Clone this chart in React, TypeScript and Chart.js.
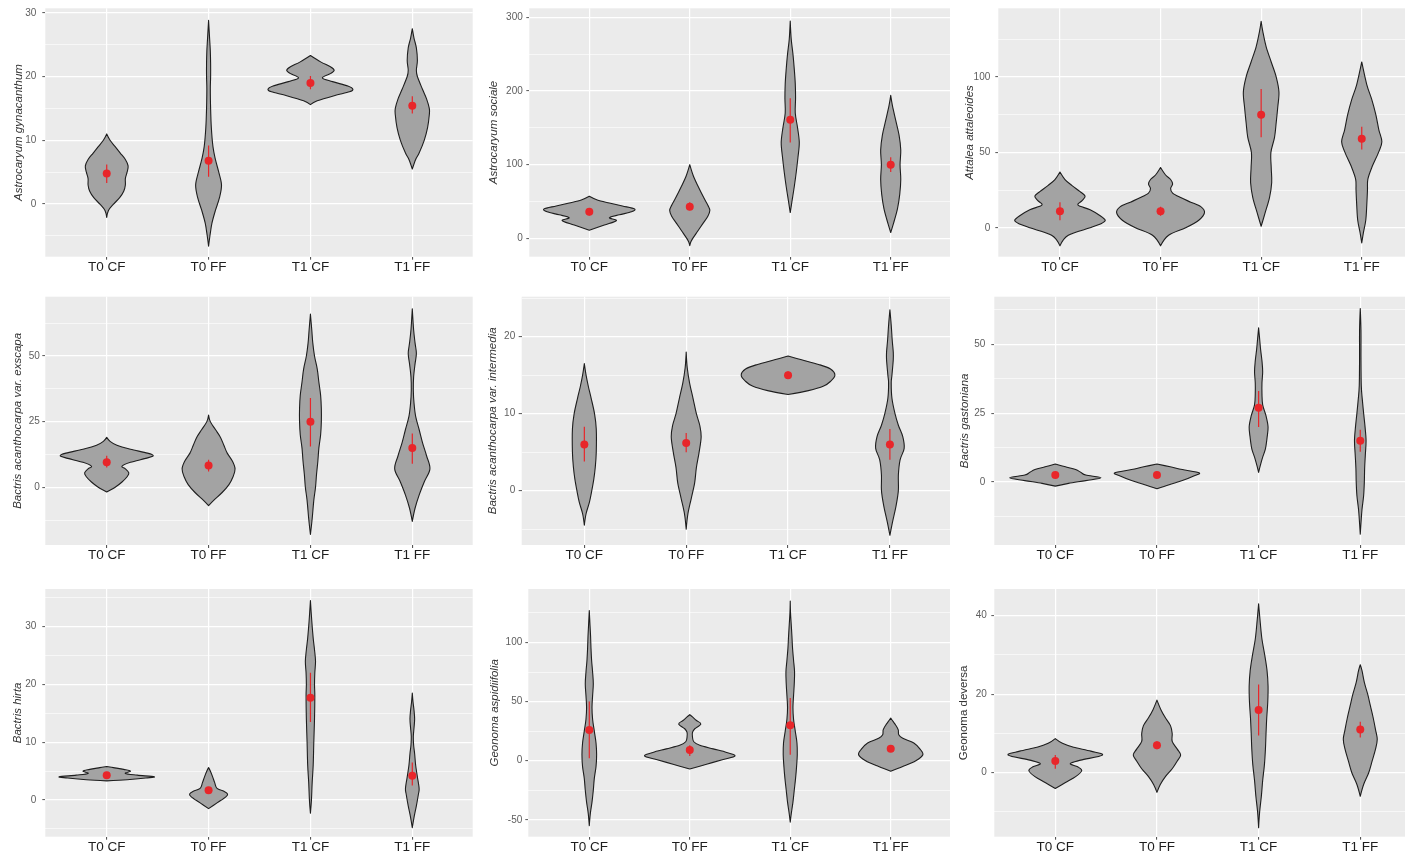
import React, { useEffect, useRef } from 'react';
import { Chart, registerables } from 'chart.js';

Chart.register(...registerables);

const categories = ['T0 CF', 'T0 FF', 'T1 CF', 'T1 FF'];

// ---------- Astrocaryum gynacanthum ----------
const gynY = [
  [-2.1, -1, 0, 1, 2, 3, 4, 5, 6, 7, 8, 9, 10, 11],
  [-6.6, -5, -3, -1, 1, 3, 5, 7, 9, 12, 15, 18, 20, 22, 24, 26, 28.8],
  [15.6, 16.2, 17, 17.6, 18, 18.5, 19.2, 19.8, 20.5, 21, 21.5, 22.3, 23.3],
  [5.5, 7, 8, 10, 12, 14, 15, 16.5, 18, 20, 21, 22.5, 24.5, 26, 27.5],
];
const gynW = [
  [0, 0.017, 0.067, 0.127, 0.167, 0.183, 0.183, 0.2, 0.21, 0.183, 0.133, 0.083, 0.033, 0],
  [0, 0.013, 0.033, 0.067, 0.107, 0.127, 0.1, 0.067, 0.043, 0.027, 0.02, 0.017, 0.02, 0.02, 0.017, 0.01, 0],
  [0, 0.067, 0.233, 0.383, 0.417, 0.367, 0.217, 0.117, 0.2, 0.233, 0.2, 0.1, 0],
  [0, 0.033, 0.067, 0.117, 0.15, 0.167, 0.167, 0.14, 0.1, 0.05, 0.04, 0.05, 0.04, 0.017, 0],
];
const gynMean = [4.8, 6.8, 19.0, 15.4];
const gynLow = [3.3, 4.3, 18.0, 14.2];
const gynHigh = [6.2, 9.2, 20.1, 16.9];
const gynMajor = [0, 10, 20, 30];
const gynMinor = [-5, 5, 15, 25];

// ---------- Astrocaryum sociale ----------
const socY = [
  [11, 18, 24, 28, 32, 36, 40, 44, 48, 52, 57],
  [-10, -5, 0, 10, 20, 30, 38, 45, 55, 70, 85, 100],
  [35, 50, 70, 90, 110, 130, 150, 170, 190, 210, 230, 250, 270, 295],
  [8, 20, 40, 60, 80, 100, 120, 140, 160, 180, 194],
];
const socW = [
  [0, 0.15, 0.27, 0.2, 0.3, 0.42, 0.45, 0.33, 0.2, 0.08, 0],
  [0, 0.01, 0.03, 0.08, 0.13, 0.18, 0.2, 0.18, 0.14, 0.085, 0.035, 0],
  [0, 0.017, 0.04, 0.06, 0.077, 0.09, 0.073, 0.05, 0.053, 0.05, 0.04, 0.027, 0.01, 0],
  [0, 0.027, 0.067, 0.09, 0.1, 0.093, 0.1, 0.083, 0.05, 0.017, 0],
];
const socMean = [36, 43, 161, 100];
const socLow = [31, 38, 130, 90];
const socHigh = [40, 49, 190, 110];
const socMajor = [0, 100, 200, 300];
const socMinor = [50, 150, 250];

// ---------- Attalea attaleoides ----------
const attY = [
  [-12, -5, 0, 3, 5, 8, 12, 15, 18, 21, 24, 28, 32, 37],
  [-12, -5, 0, 5, 10, 14, 17, 20, 23, 26, 29, 32, 35, 40],
  [1, 10, 20, 30, 40, 50, 60, 70, 80, 90, 100, 110, 120, 130, 137],
  [-10, -3, 5, 15, 25, 32, 40, 50, 57, 65, 75, 85, 95, 110],
];
const attW = [
  [0, 0.083, 0.3, 0.417, 0.45, 0.4, 0.3, 0.18, 0.22, 0.25, 0.2, 0.12, 0.05, 0],
  [0, 0.08, 0.25, 0.38, 0.437, 0.4, 0.3, 0.2, 0.12, 0.1, 0.12, 0.1, 0.05, 0],
  [0, 0.04, 0.083, 0.105, 0.1, 0.097, 0.133, 0.15, 0.165, 0.177, 0.15, 0.1, 0.05, 0.017, 0],
  [0, 0.017, 0.04, 0.05, 0.057, 0.06, 0.1, 0.167, 0.2, 0.17, 0.14, 0.1, 0.05, 0],
];
const attMean = [11, 11, 75, 59];
const attLow = [5, 8, 60, 52];
const attHigh = [17, 14, 92, 67];
const attMajor = [0, 50, 100];
const attMinor = [25, 75, 125];

// ---------- Bactris acanthocarpa var. exscapa ----------
const exsY = [
  [-1.8, 0, 2, 4, 5.5, 7, 8, 9.5, 11, 12, 13, 14.5, 16, 17.5, 19],
  [-7, -5, -2, 1, 4, 7, 10, 13, 16, 19, 22, 25, 27.5],
  [-18, -12, -5, 0, 5, 10, 15, 20, 25, 30, 35, 40, 45, 50, 55, 60, 66],
  [-13, -8, -3, 2, 7, 12, 17, 22, 27, 32, 37, 42, 47, 51, 55, 60, 68],
];
const exsW = [
  [0, 0.083, 0.15, 0.2, 0.217, 0.183, 0.15, 0.233, 0.383, 0.457, 0.4, 0.233, 0.1, 0.033, 0],
  [0, 0.05, 0.133, 0.2, 0.24, 0.26, 0.233, 0.183, 0.15, 0.117, 0.067, 0.017, 0],
  [0, 0.017, 0.033, 0.05, 0.06, 0.073, 0.083, 0.1, 0.107, 0.107, 0.1, 0.083, 0.067, 0.04, 0.023, 0.013, 0],
  [0, 0.027, 0.067, 0.117, 0.173, 0.14, 0.1, 0.067, 0.033, 0.017, 0.01, 0.013, 0.027, 0.04, 0.027, 0.013, 0],
];
const exsMean = [9.5, 8.3, 25, 15];
const exsLow = [7.5, 6, 15.5, 9];
const exsHigh = [12, 10.5, 34, 20.5];
const exsMajor = [0, 25, 50];
const exsMinor = [-12.5, 12.5, 37.5, 62.5];

// ---------- Bactris acanthocarpa var. intermedia ----------
const intY = [
  [-4.5, -3, -1.5, 0, 1.5, 3, 5, 8, 10, 12, 13.5, 15, 16.5],
  [-5, -3, -1, 1, 3, 5, 7, 8.5, 10, 12, 14, 16, 18],
  [12.5, 13, 13.6, 14.2, 15, 15.8, 16.4, 17, 17.5],
  [-5.8, -4, -2, 0, 2, 4, 5.5, 7, 8.5, 10, 12, 14, 15, 17, 18, 19.5, 21.5, 23.5],
];
const intW = [
  [0, 0.017, 0.05, 0.073, 0.093, 0.107, 0.117, 0.117, 0.1, 0.067, 0.04, 0.017, 0],
  [0, 0.017, 0.05, 0.083, 0.1, 0.127, 0.147, 0.133, 0.1, 0.067, 0.033, 0.01, 0],
  [0, 0.2, 0.35, 0.417, 0.46, 0.417, 0.3, 0.133, 0],
  [0, 0.027, 0.06, 0.083, 0.083, 0.1, 0.14, 0.127, 0.083, 0.05, 0.02, 0.013, 0.02, 0.033, 0.033, 0.023, 0.013, 0],
];
const intMean = [6, 6.2, 15, 6];
const intLow = [3.8, 5, 14.6, 4];
const intHigh = [8.3, 7.5, 15.5, 8];
const intMajor = [0, 10, 20];
const intMinor = [-5, 5, 15, 25];

// ---------- Bactris gastoniana ----------
const gasY = [
  [-1.5, -0.5, 0.5, 1.5, 2.5, 3.5, 4.5, 5.5, 6.5],
  [-2.5, -1, 0.5, 2, 3.3, 4.5, 5.5, 6.5],
  [3.5, 6, 9, 12, 16, 20, 24, 28, 32, 36, 40, 44, 48, 52, 56],
  [-19, -15, -10, -5, 0, 5, 10, 15, 20, 25, 30, 35, 45, 55, 63],
];
const gasW = [
  [0, 0.13, 0.3, 0.45, 0.3, 0.25, 0.2, 0.1, 0],
  [0, 0.12, 0.25, 0.35, 0.417, 0.25, 0.13, 0],
  [0, 0.017, 0.04, 0.067, 0.083, 0.093, 0.073, 0.04, 0.033, 0.033, 0.04, 0.033, 0.02, 0.01, 0],
  [0, 0.007, 0.017, 0.033, 0.04, 0.043, 0.05, 0.057, 0.047, 0.033, 0.02, 0.01, 0.007, 0.007, 0],
];
const gasMean = [2.5, 2.5, 27, 15];
const gasLow = [2, 2, 20, 11];
const gasHigh = [3, 3, 33, 19];
const gasMajor = [0, 25, 50];
const gasMinor = [-12.5, 12.5, 37.5, 62.5];

// ---------- Bactris hirta ----------
const hirY = [
  [3.3, 3.5, 3.8, 4.0, 4.3, 4.6, 5.0, 5.3, 5.6, 5.8],
  [-1.5, -0.5, 0.5, 1, 1.5, 2, 3, 4, 5, 5.6],
  [-2.3, 0, 3, 6, 10, 14, 18, 20, 22, 24, 26, 28, 31, 34.5],
  [-4.8, -3, -1, 1, 2, 4, 6, 8, 9.5, 11, 12.5, 14, 15.5, 17, 18.5],
];
const hirW = [
  [0, 0.2, 0.383, 0.467, 0.3, 0.183, 0.233, 0.167, 0.067, 0],
  [0, 0.083, 0.167, 0.187, 0.15, 0.083, 0.06, 0.04, 0.017, 0],
  [0, 0.01, 0.017, 0.027, 0.033, 0.04, 0.043, 0.04, 0.043, 0.05, 0.04, 0.027, 0.013, 0],
  [0, 0.017, 0.04, 0.06, 0.067, 0.05, 0.033, 0.023, 0.013, 0.01, 0.017, 0.023, 0.017, 0.007, 0],
];
const hirMean = [4.3, 1.7, 17.7, 4.2];
const hirLow = [4.0, 1.4, 13.5, 2.5];
const hirHigh = [4.6, 2.0, 22, 6.5];
const hirMajor = [0, 10, 20, 30];
const hirMinor = [-5, 5, 15, 25, 35];

// ---------- Geonoma aspidiifolia ----------
const aspY = [
  [-55, -45, -35, -25, -15, -5, 5, 15, 25, 35, 45, 55, 65, 75, 85, 95, 105, 115, 127],
  [-7, -3, 1, 4, 7, 10, 13, 16, 20, 24, 27, 31, 34, 37, 39],
  [-52, -45, -35, -25, -15, -5, 5, 15, 25, 35, 45, 55, 65, 75, 85, 95, 105, 115, 125, 135],
  [-9, -5, 0, 5, 10, 15, 19, 22, 26, 30, 33, 36],
];
const aspW = [
  [0, 0.01, 0.027, 0.04, 0.05, 0.067, 0.073, 0.067, 0.05, 0.033, 0.027, 0.033, 0.04, 0.033, 0.023, 0.017, 0.013, 0.007, 0],
  [0, 0.167, 0.333, 0.45, 0.367, 0.233, 0.1, 0.04, 0.027, 0.027, 0.05, 0.11, 0.067, 0.027, 0],
  [0, 0.01, 0.027, 0.04, 0.053, 0.063, 0.07, 0.067, 0.05, 0.033, 0.027, 0.033, 0.04, 0.043, 0.033, 0.023, 0.017, 0.01, 0.003, 0],
  [0, 0.12, 0.25, 0.32, 0.29, 0.23, 0.12, 0.08, 0.075, 0.05, 0.025, 0],
];
const aspMean = [26, 9, 30, 10];
const aspLow = [2, 4, 5, 8];
const aspHigh = [50, 13, 53, 12];
const aspMajor = [-50, 0, 50, 100];
const aspMinor = [-25, 25, 75, 125];

// ---------- Geonoma deversa ----------
const devY = [
  [-4, -2.5, -1, 0.5, 1.5, 2.3, 3.2, 4.5, 5.5, 6.5, 7.5, 8.7],
  [-5, -3, -1, 1, 3, 4.5, 6, 8, 10, 12, 14, 16, 18.5],
  [-14, -10, -6, -2, 2, 6, 10, 14, 18, 22, 26, 30, 34, 38, 43],
  [-6, -3, 0, 3, 6, 8.5, 11, 14, 17, 20, 23, 26, 27.5],
];
const devW = [
  [0, 0.1, 0.2, 0.26, 0.22, 0.147, 0.25, 0.463, 0.35, 0.18, 0.07, 0],
  [0, 0.033, 0.083, 0.15, 0.2, 0.233, 0.2, 0.15, 0.15, 0.133, 0.083, 0.04, 0],
  [0, 0.01, 0.027, 0.04, 0.057, 0.067, 0.073, 0.08, 0.09, 0.093, 0.083, 0.06, 0.033, 0.017, 0],
  [0, 0.033, 0.083, 0.117, 0.15, 0.167, 0.15, 0.127, 0.1, 0.073, 0.04, 0.017, 0],
];
const devMean = [3, 7, 16, 11];
const devLow = [1, 6, 9.5, 9];
const devHigh = [4.5, 8, 22.5, 13];
const devMajor = [0, 20, 40];
const devMinor = [-10, 10, 30];

const titles = [
  'Astrocaryum gynacanthum',
  'Astrocaryum sociale',
  'Attalea attaleoides',
  'Bactris acanthocarpa var. exscapa',
  'Bactris acanthocarpa var. intermedia',
  'Bactris gastoniana',
  'Bactris hirta',
  'Geonoma aspidiifolia',
  'Geonoma deversa',
];

const panels = [
  { ys: gynY, ws: gynW, mean: gynMean, low: gynLow, high: gynHigh, major: gynMajor, minor: gynMinor, yMin: -8.25, yMax: 30.7, italic: true },
  { ys: socY, ws: socW, mean: socMean, low: socLow, high: socHigh, major: socMajor, minor: socMinor, yMin: -24.9, yMax: 312.2, italic: true },
  { ys: attY, ws: attW, mean: attMean, low: attLow, high: attHigh, major: attMajor, minor: attMinor, yMin: -19.2, yMax: 145.6, italic: true },
  { ys: exsY, ws: exsW, mean: exsMean, low: exsLow, high: exsHigh, major: exsMajor, minor: exsMinor, yMin: -22, yMax: 72.6, italic: true },
  { ys: intY, ws: intW, mean: intMean, low: intLow, high: intHigh, major: intMajor, minor: intMinor, yMin: -7.06, yMax: 25.2, italic: true },
  { ys: gasY, ws: gasW, mean: gasMean, low: gasLow, high: gasHigh, major: gasMajor, minor: gasMinor, yMin: -22.9, yMax: 67.3, italic: true },
  { ys: hirY, ws: hirW, mean: hirMean, low: hirLow, high: hirHigh, major: hirMajor, minor: hirMinor, yMin: -6.35, yMax: 36.5, italic: true },
  { ys: aspY, ws: aspW, mean: aspMean, low: aspLow, high: aspHigh, major: aspMajor, minor: aspMinor, yMin: -64.3, yMax: 145.2, italic: true },
  { ys: devY, ws: devW, mean: devMean, low: devLow, high: devHigh, major: devMajor, minor: devMinor, yMin: -16.3, yMax: 46.8, italic: false },
];

// plot-area boxes (page pixels) for the 3x3 grid
const boxes = [
  { l: 45.3, t: 8.3, r: 472.7, b: 256.7, titleX: 18.3, xMin: 0.397, xMax: 4.593, tickPad: 6 },
  { l: 529.3, t: 8.3, r: 950, b: 256.7, titleX: 493.3, xMin: 0.403, xMax: 4.59, tickPad: 3.5 },
  { l: 998.3, t: 8.3, r: 1405, b: 256.7, titleX: 970, xMin: 0.387, xMax: 4.43, tickPad: 5 },
  { l: 45.3, t: 296.7, r: 472.7, b: 545, titleX: 17.5, xMin: 0.397, xMax: 4.593, tickPad: 2.5 },
  { l: 521.7, t: 296.7, r: 950, b: 545, titleX: 492.5, xMin: 0.385, xMax: 4.59, tickPad: 3.5 },
  { l: 994.3, t: 296.7, r: 1405, b: 545, titleX: 964.3, xMin: 0.4, xMax: 4.44, tickPad: 6 },
  { l: 45.3, t: 589, r: 472.7, b: 836.7, titleX: 17.5, xMin: 0.397, xMax: 4.593, tickPad: 6 },
  { l: 528.3, t: 589, r: 950, b: 836.7, titleX: 495, xMin: 0.393, xMax: 4.59, tickPad: 3 },
  { l: 994.3, t: 589, r: 1405, b: 836.7, titleX: 964.3, xMin: 0.4, xMax: 4.44, tickPad: 4.5 },
];

const FONT = "'Liberation Sans', Arial, Helvetica, sans-serif";
const PANEL_BG = '#ebebeb';
const VIOLIN_FILL = '#a3a3a3';
const VIOLIN_LINE = '#1e1e1e';
const RED = '#e8262a';

function tracePath(ctx: CanvasRenderingContext2D, pts: number[][], corner: boolean[]) {
  const n = pts.length;
  const tan = pts.map((p, i) => {
    if (corner[i]) return [0, 0];
    const a = pts[(i - 1 + n) % n];
    const b = pts[(i + 1) % n];
    return [(b[0] - a[0]) / 2, (b[1] - a[1]) / 2];
  });
  ctx.moveTo(pts[0][0], pts[0][1]);
  for (let i = 0; i < n; i++) {
    const j = (i + 1) % n;
    ctx.bezierCurveTo(
      pts[i][0] + tan[i][0] / 3, pts[i][1] + tan[i][1] / 3,
      pts[j][0] - tan[j][0] / 3, pts[j][1] - tan[j][1] / 3,
      pts[j][0], pts[j][1]
    );
  }
  ctx.closePath();
}

function makeViolinPlugin(ys: number[][], ws: number[][]) {
  return {
    id: 'violins',
    beforeDatasetsDraw(chart: any) {
      const { ctx, chartArea: a, scales } = chart;
      const xs = scales.x;
      const yS = scales.y;
      ctx.save();
      ctx.beginPath();
      ctx.rect(a.left, a.top, a.right - a.left, a.bottom - a.top);
      ctx.clip();
      ys.forEach((yy, i) => {
        const c = i + 1;
        const w = ws[i];
        const pts: number[][] = [];
        const corner: boolean[] = [];
        for (let k = 0; k < yy.length; k++) {
          pts.push([xs.getPixelForValue(c + w[k]), yS.getPixelForValue(yy[k])]);
          corner.push(k === 0 || k === yy.length - 1);
        }
        for (let k = yy.length - 2; k >= 1; k--) {
          pts.push([xs.getPixelForValue(c - w[k]), yS.getPixelForValue(yy[k])]);
          corner.push(false);
        }
        ctx.beginPath();
        tracePath(ctx, pts, corner);
        ctx.fillStyle = VIOLIN_FILL;
        ctx.fill();
        ctx.lineWidth = 1.1;
        ctx.lineJoin = 'round';
        ctx.strokeStyle = VIOLIN_LINE;
        ctx.stroke();
      });
      ctx.restore();
    },
  };
}

const backgroundPlugin = {
  id: 'panelBg',
  beforeDraw(chart: any) {
    const { ctx, chartArea: a } = chart;
    ctx.save();
    ctx.fillStyle = PANEL_BG;
    ctx.fillRect(a.left, a.top, a.right - a.left, a.bottom - a.top);
    ctx.restore();
  },
};

function PanelChart({ idx }: { idx: number }) {
  const ref = useRef<HTMLCanvasElement>(null);
  const p = panels[idx];
  const box = boxes[idx];
  const x0 = Math.floor(box.titleX - 10);
  const y0 = Math.floor(box.t - 12);
  const x1 = Math.min(1405, Math.ceil(box.r));
  const y1 = Math.ceil(box.b + 24);
  const w = x1 - x0;
  const h = y1 - y0;

  useEffect(() => {
    if (!ref.current) return;
    const titleSize = 11.5;
    const lh = titleSize * 1.2;
    const datasets: any[] = [
      {
        data: p.mean.map((m, i) => ({ x: i + 1, y: m })),
        pointRadius: 4,
        pointBackgroundColor: RED,
        pointBorderWidth: 0,
        showLine: false,
      },
      ...p.low.map((lo, i) => ({
        data: [{ x: i + 1, y: lo }, { x: i + 1, y: p.high[i] }],
        showLine: true,
        borderColor: RED,
        borderWidth: 1.2,
        pointRadius: 0,
        fill: false,
      })),
    ];
    const chart = new Chart(ref.current, {
      type: 'scatter',
      data: { datasets },
      plugins: [backgroundPlugin, makeViolinPlugin(p.ys, p.ws)],
      options: {
        responsive: false,
        animation: false,
        events: [],
        layout: {
          autoPadding: false,
          padding: { left: 0, top: box.t - y0, right: x1 - box.r, bottom: 0 },
        },
        plugins: { legend: { display: false }, tooltip: { enabled: false } },
        scales: {
          x: {
            type: 'linear',
            position: 'bottom',
            min: box.xMin,
            max: box.xMax,
            afterBuildTicks: (s: any) => {
              s.ticks = categories.map((_, i) => ({ value: i + 1 }));
            },
            afterFit: (s: any) => {
              s.height = y1 - box.b;
              s.paddingLeft = 0;
              s.paddingRight = 0;
            },
            grid: { color: '#ffffff', lineWidth: 1.2, drawTicks: true, tickLength: 3, tickColor: '#444', tickWidth: 1 },
            border: { display: false },
            ticks: {
              autoSkip: false,
              maxRotation: 0,
              padding: 0,
              color: '#1e1e1e',
              font: { family: FONT, size: 13.5, lineHeight: 1.1 },
              callback: (v: any) => categories[Math.round(Number(v)) - 1] ?? '',
            },
          },
          y: {
            type: 'linear',
            position: 'left',
            min: p.yMin,
            max: p.yMax,
            afterBuildTicks: (s: any) => {
              s.ticks = [
                ...p.major.map((v) => ({ value: v, minor: false })),
                ...p.minor.map((v) => ({ value: v, minor: true })),
              ].sort((a, b) => a.value - b.value);
            },
            afterFit: (s: any) => {
              s.width = box.l - x0;
              s.paddingTop = 0;
              s.paddingBottom = 0;
            },
            grid: {
              color: '#ffffff',
              lineWidth: (c: any) => (c.tick && c.tick.minor ? 0.6 : 1.2),
              drawTicks: true,
              tickLength: 3,
              tickColor: (c: any) => (c.tick && c.tick.minor ? 'rgba(0,0,0,0)' : '#555'),
              tickWidth: 1,
            },
            border: { display: false },
            ticks: {
              autoSkip: false,
              padding: box.tickPad,
              color: '#5e5e5e',
              font: { family: FONT, size: 10 },
              callback: (v: any, i: number, ticks: any[]) => (ticks[i] && ticks[i].minor ? '' : String(v)),
            },
            title: {
              display: true,
              text: titles[idx],
              color: '#333',
              font: { family: FONT, size: titleSize, style: p.italic ? 'italic' : 'normal' },
              padding: { top: box.titleX - x0 - lh / 2, bottom: 0 },
            },
          },
        },
      } as any,
    });
    return () => chart.destroy();
  }, []);

  return (
    <canvas
      ref={ref}
      width={w}
      height={h}
      style={{ position: 'absolute', left: x0, top: y0, width: w, height: h }}
    />
  );
}

export default function App() {
  return (
    <div style={{ position: 'absolute', left: 0, top: 0, width: 1405, height: 859, background: '#ffffff', overflow: 'hidden' }}>
      {panels.map((_, i) => (
        <PanelChart key={i} idx={i} />
      ))}
    </div>
  );
}
